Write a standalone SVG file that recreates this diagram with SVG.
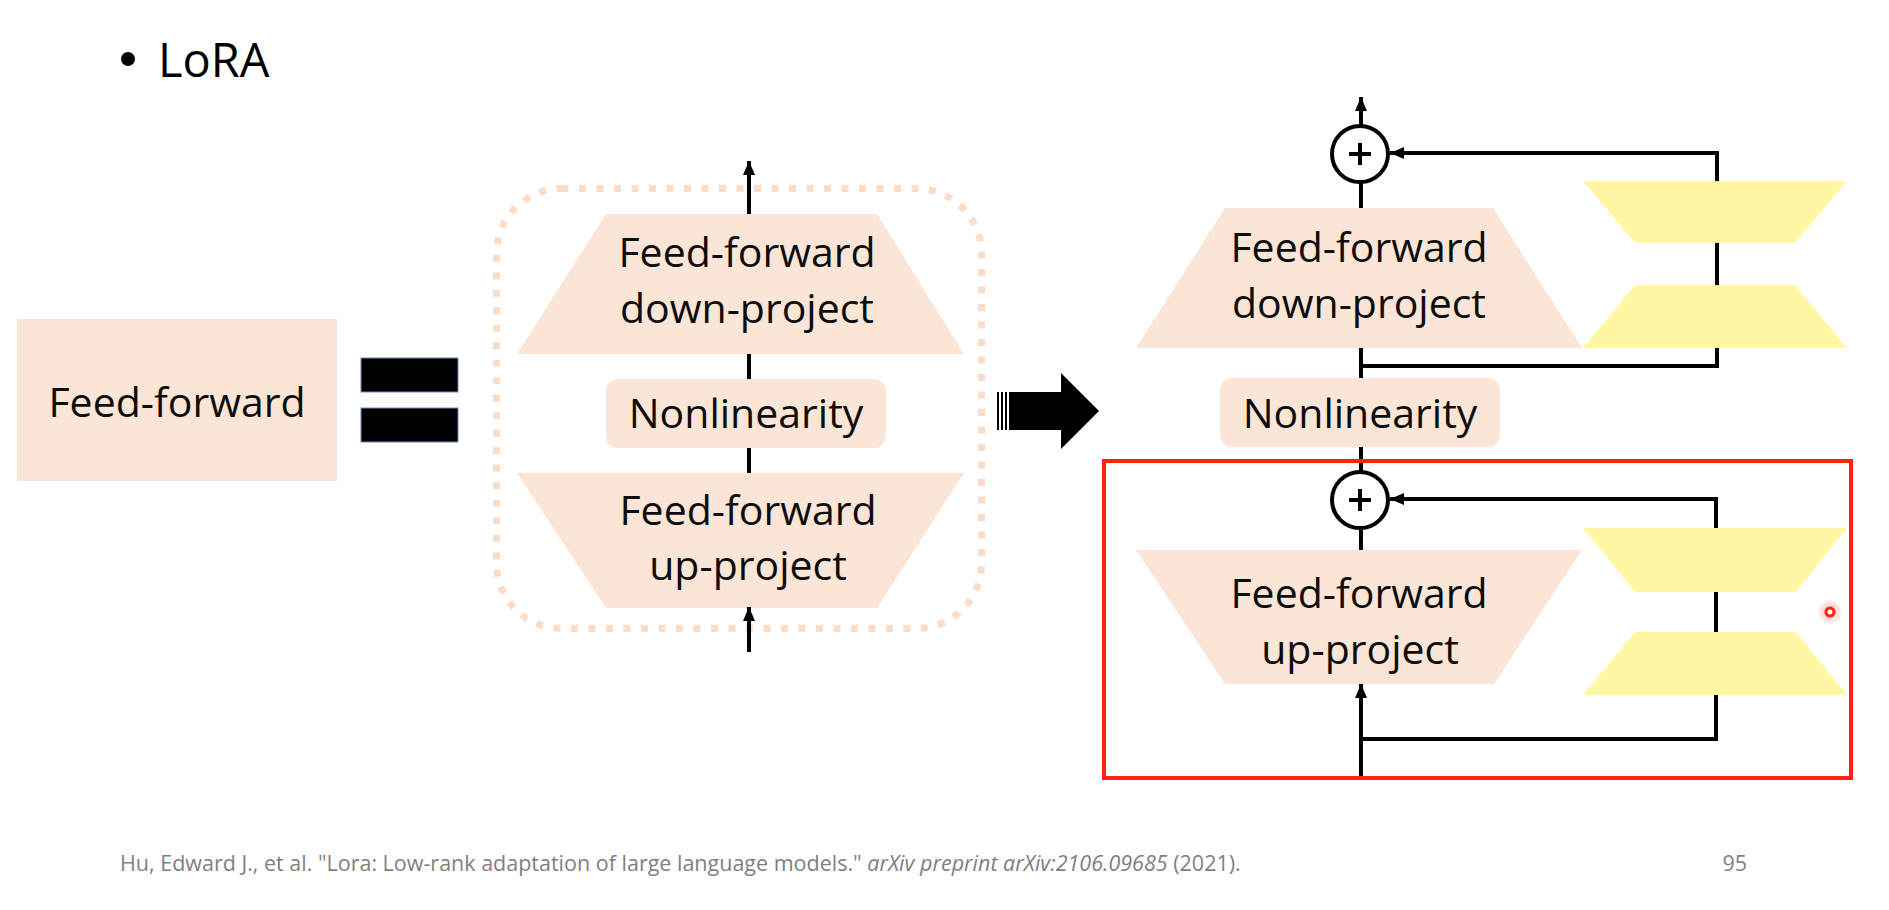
<svg xmlns="http://www.w3.org/2000/svg" width="1889" height="910" viewBox="0 0 1889 910">
<defs>
<style>
.peach{fill:#FBE5D6}
.yellow{fill:#FFF7A3}
.lbl{font-family:"Open Sans","Liberation Sans",sans-serif;font-size:41px;fill:#0d0d0d;text-anchor:middle}
.ln{stroke:#000;stroke-width:4;fill:none}
.circ{stroke:#000;stroke-width:4;fill:#fff}
.foot{font-family:"Open Sans","Liberation Sans",sans-serif;font-size:21.5px;fill:#7f7f7f}
</style>
<marker id="ah" viewBox="0 0 14 12" refX="14" refY="6" markerWidth="14" markerHeight="12" markerUnits="userSpaceOnUse" orient="auto">
<path d="M0,0 L14,6 L0,12 z" fill="#000"/>
</marker>
<radialGradient id="glow">
<stop offset="0" stop-color="#ff3b2a" stop-opacity="0.45"/>
<stop offset="1" stop-color="#ff3b2a" stop-opacity="0"/>
</radialGradient>
</defs>
<rect width="1889" height="910" fill="#fff"/>

<g id="title">
<circle cx="128" cy="59" r="7" fill="#000"/>
<text x="158" y="77" font-family="Open Sans, Liberation Sans, sans-serif" font-size="47" fill="#000">LoRA</text>
</g>

<g id="ff-left">
<rect class="peach" x="17" y="319" width="320" height="162"/>
<text class="lbl" x="177" y="417">Feed-forward</text>
</g>

<g id="equals">
<rect x="361" y="358" width="97" height="34" fill="#000" stroke="#6d8cbf" stroke-width="1"/>
<rect x="361" y="408" width="97" height="34" fill="#000" stroke="#6d8cbf" stroke-width="1"/>
</g>

<g id="middle-group">
<rect x="496.5" y="188.5" width="485" height="440" rx="65" fill="none" stroke="#F9DDC8" stroke-width="7" stroke-dasharray="7 10.5"/>
</g>

<g id="mid-down">
<polygon class="peach" points="606,214 877,214 964,354 517,354"/>
<text class="lbl" x="747" y="267">Feed-forward</text>
<text class="lbl" x="747" y="323">down-project</text>
</g>
<g id="mid-nonlin">
<rect class="peach" x="606" y="379" width="280" height="69" rx="12"/>
<text class="lbl" x="746" y="428">Nonlinearity</text>
</g>
<g id="mid-up">
<polygon class="peach" points="517,473 964,473 877,608 606,608"/>
<text class="lbl" x="748" y="525">Feed-forward</text>
<text class="lbl" x="748" y="580">up-project</text>
</g>

<g id="block-arrow">
<rect x="997" y="392" width="2" height="38" fill="#000"/>
<rect x="1001" y="392" width="2" height="38" fill="#000"/>
<rect x="1005" y="392" width="2" height="38" fill="#000"/>
<polygon points="1009,392 1061,392 1061,373 1099,411 1061,449 1061,430 1009,430" fill="#000"/>
</g>

<g id="r-down">
<polygon class="peach" points="1225,208 1493,208 1582,348 1136,348"/>
<text class="lbl" x="1359" y="262">Feed-forward</text>
<text class="lbl" x="1359" y="318">down-project</text>
</g>
<g id="r-nonlin">
<rect class="peach" x="1220" y="378" width="280" height="69" rx="12"/>
<text class="lbl" x="1360" y="428">Nonlinearity</text>
</g>
<g id="r-up">
<polygon class="peach" points="1136,550 1582,550 1494,684 1225,684"/>
<text class="lbl" x="1359" y="608">Feed-forward</text>
<text class="lbl" x="1360" y="664">up-project</text>
</g>

<g id="connectors">
<line class="ln" x1="749" y1="214" x2="749" y2="161" marker-end="url(#ah)"/>
<line class="ln" x1="749" y1="354" x2="749" y2="379"/>
<line class="ln" x1="749" y1="448" x2="749" y2="473"/>
<line class="ln" x1="749" y1="652" x2="749" y2="607" marker-end="url(#ah)"/>

<line class="ln" x1="1361" y1="125" x2="1361" y2="97" marker-end="url(#ah)"/>
<line class="ln" x1="1361" y1="183" x2="1361" y2="208"/>
<line class="ln" x1="1361" y1="348" x2="1361" y2="378"/>
<polyline class="ln" points="1361,366 1717,366 1717,153 1390,153" marker-end="url(#ah)"/>
<line class="ln" x1="1361" y1="447" x2="1361" y2="471"/>
<line class="ln" x1="1361" y1="530" x2="1361" y2="550"/>
<line class="ln" x1="1361" y1="777" x2="1361" y2="684" marker-end="url(#ah)"/>
<polyline class="ln" points="1361,739 1716,739 1716,499 1390,499" marker-end="url(#ah)"/>
</g>

<g id="plus-top">
<circle class="circ" cx="1360" cy="154" r="28"/>
<path class="ln" d="M1349,154 H1371 M1360,143 V165"/>
</g>
<g id="plus-bottom">
<circle class="circ" cx="1360" cy="500" r="28"/>
<path class="ln" d="M1349,500 H1371 M1360,489 V511"/>
</g>

<g id="lora-top-a"><polygon class="yellow" points="1583,181 1847,181 1795,243 1635,243"/></g>
<g id="lora-top-b"><polygon class="yellow" points="1635,285 1795,285 1847,348 1583,348"/></g>
<g id="lora-bot-a"><polygon class="yellow" points="1583,528 1847,528 1796,592 1635,592"/></g>
<g id="lora-bot-b"><polygon class="yellow" points="1635,632 1796,632 1847,695 1583,695"/></g>

<g id="highlight">
<rect x="1104" y="461" width="747" height="317" fill="none" stroke="#FF2412" stroke-width="4"/>
</g>

<g id="pointer">
<circle cx="1830" cy="612" r="13" fill="url(#glow)"/>
<circle cx="1830" cy="612" r="4" fill="#fff" stroke="#FF2412" stroke-width="3"/>
</g>

<g id="footnote">
<text class="foot" x="120" y="871">Hu, Edward J., et al. "Lora: Low-rank adaptation of large language models." <tspan font-style="italic">arXiv preprint arXiv:2106.09685</tspan> (2021).</text>
<text class="foot" x="1747" y="871" text-anchor="end">95</text>
</g>
</svg>
